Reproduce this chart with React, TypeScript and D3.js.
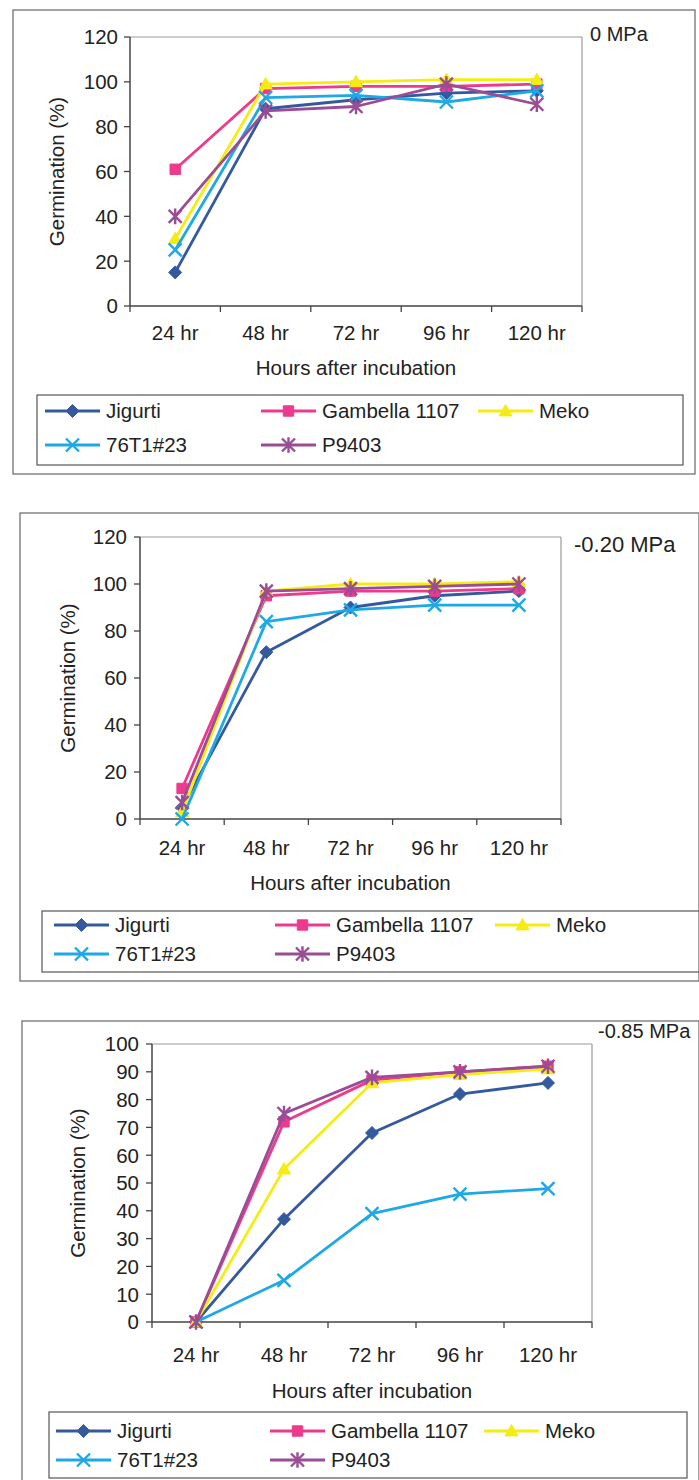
import React from 'react';
import * as d3 from 'd3';

// categories and series
const categories = ['24 hr', '48 hr', '72 hr', '96 hr', '120 hr'];
const seriesNames = ['Jigurti', 'Gambella 1107', 'Meko', '76T1#23', 'P9403'];
const seriesColors = ['#34599e', '#ee3a8c', '#f5ec12', '#1ea9e6', '#9a4c96'];
const seriesMarkers = ['diamond', 'square', 'triangle', 'x', 'star'];

// 0 MPa
const jigurti0 = [15, 88, 92, 95, 96];
const gambella0 = [61, 97, 98, 98, 99];
const meko0 = [30, 99, 100, 101, 101];
const t76_0 = [25, 93, 94, 91, 96];
const p9403_0 = [40, 87, 89, 99, 90];

// -0.20 MPa
const jigurti20 = [5, 71, 90, 95, 97];
const gambella20 = [13, 95, 97, 97, 98];
const meko20 = [3, 97, 100, 100, 101];
const t76_20 = [0, 84, 89, 91, 91];
const p9403_20 = [7, 97, 98, 99, 100];

// -0.85 MPa
const jigurti85 = [0, 37, 68, 82, 86];
const gambella85 = [0, 72, 87, 90, 92];
const meko85 = [0, 55, 86, 89, 91];
const t76_85 = [0, 15, 39, 46, 48];
const p9403_85 = [0, 75, 88, 90, 92];

const ticks120 = [0, 20, 40, 60, 80, 100, 120];
const ticks100 = [0, 10, 20, 30, 40, 50, 60, 70, 80, 90, 100];
const pressureLabels = ['0 MPa', '-0.20 MPa', '-0.85 MPa'];
const xTitle = 'Hours after incubation';
const yTitle = 'Germination (%)';

const FONT = '"Liberation Sans", Arial, sans-serif';
const TEXT = '#222';
const FS = 20.5;

// layout of each panel (page pixels)
const layouts = [
  {
    frame: [13, 10, 682, 464], plot: [130, 582, 37, 306], yMax: 120, ticks: ticks120,
    yTitleX: 57, xLabelY: 340, xTitleY: 375, tickRight: 118,
    legend: [37, 395, 646, 70], rows: [411, 445], cols: [45, 261, 478],
    label: [590, 41, 20],
  },
  {
    frame: [20, 513, 679, 468], plot: [140, 561, 537, 819], yMax: 120, ticks: ticks120,
    yTitleX: 68, xLabelY: 855, xTitleY: 890, tickRight: 127,
    legend: [42, 911, 660, 61], rows: [925, 954], cols: [54, 275, 495],
    label: [574, 552, 22],
  },
  {
    frame: [22, 1021, 677, 470], plot: [152, 592, 1044, 1322], yMax: 100, ticks: ticks100,
    yTitleX: 78, xLabelY: 1362, xTitleY: 1398, tickRight: 139,
    legend: [49, 1412, 638, 66], rows: [1431, 1460], cols: [56, 270, 484],
    label: [598, 1038, 20],
  },
];

const panelData = [
  [jigurti0, gambella0, meko0, t76_0, p9403_0],
  [jigurti20, gambella20, meko20, t76_20, p9403_20],
  [jigurti85, gambella85, meko85, t76_85, p9403_85],
];

function markerPath(kind: string, r: number) {
  switch (kind) {
    case 'diamond':
      return `M0,${-r}L${r},0L0,${r}L${-r},0Z`;
    case 'square':
      return `M${-r * 0.8},${-r * 0.8}h${r * 1.6}v${r * 1.6}h${-r * 1.6}Z`;
    case 'triangle':
      return `M0,${-r}L${r},${r * 0.75}L${-r},${r * 0.75}Z`;
    case 'x':
      return `M${-r},${-r}L${r},${r}M${-r},${r}L${r},${-r}`;
    default:
      return `M${-r},${-r}L${r},${r}M${-r},${r}L${r},${-r}M0,${-r * 1.2}V${r * 1.2}`;
  }
}

function Marker({ kind, color, x, y }: { kind: string; color: string; x: number; y: number }) {
  const stroked = kind === 'x' || kind === 'star';
  return (
    <path
      transform={`translate(${x},${y})`}
      d={markerPath(kind, stroked ? 6.5 : 6.5)}
      fill={stroked ? 'none' : color}
      stroke={color}
      strokeWidth={stroked ? 2.4 : 1}
    />
  );
}

function Panel({ idx }: { idx: number }) {
  const L = layouts[idx];
  const series = panelData[idx];
  const [pl, pr, pt, pb] = L.plot;
  const x = d3.scaleBand().domain(categories).range([pl, pr]).paddingInner(0).paddingOuter(0);
  const y = d3.scaleLinear().domain([0, L.yMax]).range([pb, pt]);
  const cx = (c: string) => (x(c) as number) + x.bandwidth() / 2;
  const lineGen = d3
    .line<number>()
    .x((_, i) => cx(categories[i]))
    .y((v) => y(v));
  const bounds = categories.map((c) => x(c) as number).concat([pr]);
  const [fx, fy, fw, fh] = L.frame;
  const [lx, ly, lw, lh] = L.legend;
  const midY = (pt + pb) / 2;

  return (
    <g>
      <rect x={fx} y={fy} width={fw} height={fh} fill="none" stroke="#666" strokeWidth={1.2} />
      {/* plot area border */}
      <line x1={pl} x2={pr} y1={pt} y2={pt} stroke="#9a9a9a" strokeWidth={1.2} />
      <line x1={pr} x2={pr} y1={pt} y2={pb} stroke="#9a9a9a" strokeWidth={1.2} />
      {/* y axis */}
      <line x1={pl} x2={pl} y1={pt} y2={pb} stroke="#444" strokeWidth={1.5} />
      {L.ticks.map((t) => (
        <g key={t}>
          <line x1={pl - 6} x2={pl} y1={y(t)} y2={y(t)} stroke="#444" strokeWidth={1.3} />
          <text x={L.tickRight} y={y(t)} dy="0.36em" textAnchor="end" fontFamily={FONT} fontSize={FS} fill={TEXT}>
            {t}
          </text>
        </g>
      ))}
      {/* x axis */}
      <line x1={pl} x2={pr} y1={pb} y2={pb} stroke="#444" strokeWidth={1.5} />
      {bounds.map((b, i) => (
        <line key={i} x1={b} x2={b} y1={pb} y2={pb + 6} stroke="#444" strokeWidth={1.3} />
      ))}
      {categories.map((c) => (
        <text key={c} x={cx(c)} y={L.xLabelY} textAnchor="middle" fontFamily={FONT} fontSize={FS} fill={TEXT}>
          {c}
        </text>
      ))}
      <text x={(pl + pr) / 2} y={L.xTitleY} textAnchor="middle" fontFamily={FONT} fontSize={FS} fill={TEXT}>
        {xTitle}
      </text>
      <text
        transform={`translate(${L.yTitleX},${midY}) rotate(-90)`}
        dy="0.36em"
        textAnchor="middle"
        fontFamily={FONT}
        fontSize={FS}
        fill={TEXT}
      >
        {yTitle}
      </text>
      <text x={L.label[0]} y={L.label[1]} fontFamily={FONT} fontSize={L.label[2]} fill={TEXT}>
        {pressureLabels[idx]}
      </text>
      {/* series */}
      {series.map((vals, si) => (
        <g key={si}>
          <path d={lineGen(vals) || ''} fill="none" stroke={seriesColors[si]} strokeWidth={2.8} strokeLinejoin="round" />
          {vals.map((v, i) => (
            <Marker key={i} kind={seriesMarkers[si]} color={seriesColors[si]} x={cx(categories[i])} y={y(v)} />
          ))}
        </g>
      ))}
      {/* legend */}
      <rect x={lx} y={ly} width={lw} height={lh} fill="none" stroke="#555" strokeWidth={1.2} />
      {seriesNames.map((name, si) => {
        const row = si < 3 ? 0 : 1;
        const col = si < 3 ? si : si - 3;
        const x0 = L.cols[col];
        const yy = L.rows[row];
        return (
          <g key={name}>
            <line x1={x0} x2={x0 + 55} y1={yy} y2={yy} stroke={seriesColors[si]} strokeWidth={2.8} />
            <Marker kind={seriesMarkers[si]} color={seriesColors[si]} x={x0 + 27.5} y={yy} />
            <text x={x0 + 61} y={yy} dy="0.36em" fontFamily={FONT} fontSize={FS} fill={TEXT}>
              {name}
            </text>
          </g>
        );
      })}
    </g>
  );
}

export default function App() {
  return (
    <svg
      width={699}
      height={1480}
      style={{ position: 'absolute', left: 0, top: 0, background: '#fff' }}
    >
      <rect width={699} height={1480} fill="#fff" />
      {layouts.map((_, i) => (
        <Panel key={i} idx={i} />
      ))}
    </svg>
  );
}
